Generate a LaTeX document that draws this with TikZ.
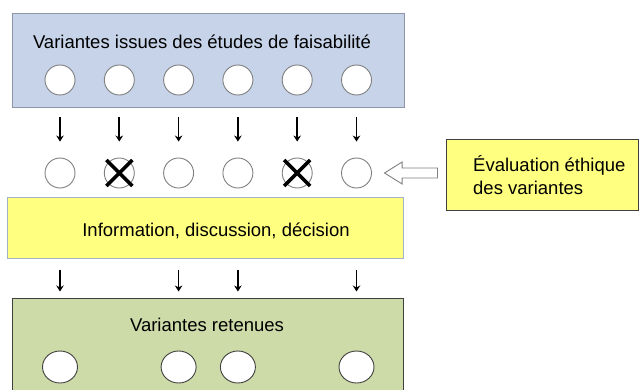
\documentclass[tikz,border=0pt]{standalone}
\usepackage{fontspec}
\setmainfont{Liberation Sans}
\usepackage{xcolor}
\usetikzlibrary{arrows.meta,shapes.arrows,shapes.geometric}
\definecolor{varBlue}{HTML}{C6D3E8}
\definecolor{varBlueLine}{HTML}{8C96A6}
\definecolor{infoYellow}{HTML}{FFFF80}
\definecolor{infoLine}{HTML}{A4B2C9}
\definecolor{keptGreen}{HTML}{CDDBA9}
\definecolor{darkLine}{HTML}{404040}
\definecolor{circleGray}{HTML}{7F7F7F}
\begin{document}
\begin{tikzpicture}
[x=1pt,y=-1pt,
 lineDecorate/.style={-{Stealth[length=6pt,width=7.5pt]},line width=1.7pt},
 nodeDecorate/.style={shape=circle,minimum size=30pt,inner sep=0pt,draw=circleGray,line width=0.9pt,fill=white},
 keptDecorate/.style={shape=ellipse,minimum width=35pt,minimum height=32pt,inner sep=0pt,draw=darkLine,line width=0.9pt,fill=white},
 boxDecorate/.style={shape=rectangle,inner sep=0pt,line width=1pt},
 crossDecorate/.style={line width=3.5pt},
 textDecorate/.style={font=\fontsize{18.5}{23}\selectfont,inner sep=0pt}]

 \useasboundingbox (0,0) rectangle (639,390);

 \node(V) at (208,61) [boxDecorate, fill=varBlue, draw=varBlueLine, minimum width=392pt, minimum height=94pt]{};
 \node(I) at (205,227.5) [boxDecorate, fill=infoYellow, draw=infoLine, minimum width=396pt, minimum height=61pt]{};
 \node(E) at (542,175) [boxDecorate, fill=infoYellow, draw=darkLine, minimum width=192pt, minimum height=70pt]{};
 \node(R) at (207.5,348) [boxDecorate, fill=keptGreen, draw=darkLine, minimum width=391pt, minimum height=100pt]{};

 \node(VT) at (202,49) [textDecorate, anchor=base]{Variantes issues des études de faisabilité};
 \node(IT) at (216,236) [textDecorate, anchor=base]{Information, discussion, décision};
 \node(ET) at (473,175) [textDecorate, anchor=west, align=left]{Évaluation éthique\\des variantes};
 \node(RT) at (207,331) [textDecorate, anchor=base]{Variantes retenues};

 \foreach \i in {0,...,5}
 {
          \node (A\i) at (60+59.3*\i,80) [nodeDecorate] {};
          \node (B\i) at (60+59.3*\i,173) [nodeDecorate] {};
 }
 \foreach \i in {0,2,3,5}
 {
          \node (C\i) at (60+59.3*\i,367) [keptDecorate] {};
 }

 \foreach \i in {1,4}
 {
          \draw[crossDecorate] ([shift={(-13,-13)}]B\i.center) -- ([shift={(13,13)}]B\i.center)
            ([shift={(-13,13)}]B\i.center) -- ([shift={(13,-13)}]B\i.center);
 }

 \node(H) at (415,173) [single arrow, draw=circleGray, fill=white, line width=0.9pt,
   shape border rotate=180, minimum height=53pt, minimum width=21pt,
   single arrow head extend=6pt, single arrow tip angle=64, inner xsep=0pt, inner ysep=4.5pt]{};

\path
 \foreach \i in {0,...,5}
        {
          (A\i) edge[lineDecorate, shorten <=22pt, shorten >=16pt] (B\i)
 }
 \foreach \i in {0,2,3,5}
        {
          (I.south -| C\i) edge[lineDecorate, shorten <=11pt, shorten >=6pt] (R.north -| C\i)
 };
\end{tikzpicture}
\end{document}
